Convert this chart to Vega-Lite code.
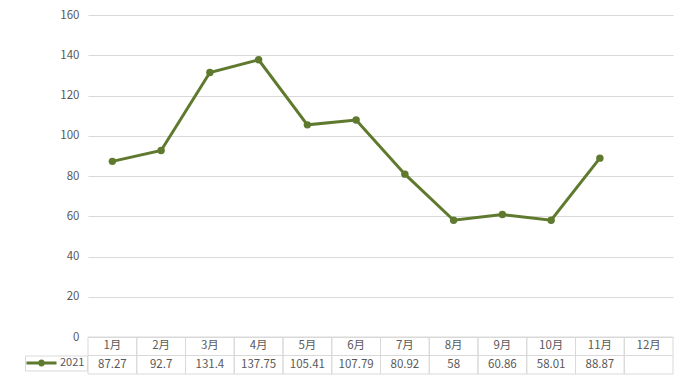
{
  "$schema": "https://vega.github.io/schema/vega-lite/v6.json",
  "padding": {"left": 24, "top": 9, "right": 15, "bottom": 16},
  "background": "white",
  "datasets": {
    "d": [
      {"month": "1月", "value": 87.27},
      {"month": "2月", "value": 92.7},
      {"month": "3月", "value": 131.4},
      {"month": "4月", "value": 137.75},
      {"month": "5月", "value": 105.41},
      {"month": "6月", "value": 107.79},
      {"month": "7月", "value": 80.92},
      {"month": "8月", "value": 58},
      {"month": "9月", "value": 60.86},
      {"month": "10月", "value": 58.01},
      {"month": "11月", "value": 88.87},
      {"month": "12月", "value": null}
    ]
  },
  "spacing": 0,
  "bounds": "flush",
  "vconcat": [
    {
      "width": 585,
      "height": 322,
      "data": {"name": "d"},
      "encoding": {
        "x": {"field": "month", "type": "ordinal", "scale": {"type": "point", "padding": 0.5, "domain": ["1月","2月","3月","4月","5月","6月","7月","8月","9月","10月","11月","12月"]}, "axis": null},
        "y": {"field": "value", "type": "quantitative", "scale": {"domain": [0, 160], "nice": false, "zero": true},
          "axis": {"values": [0, 20, 40, 60, 80, 100, 120, 140, 160], "title": null, "grid": true, "gridColor": "#d9d9d9", "gridWidth": 1, "domain": false, "ticks": false, "labelPadding": 9, "labelColor": "#595959", "labelFontSize": 11.5, "labelFont": "Noto Sans CJK SC"}}
      },
      "layer": [
        {"transform": [{"filter": "isValid(datum.value)"}], "mark": {"type": "line", "color": "#5f7a2e", "strokeWidth": 3}},
        {"transform": [{"filter": "isValid(datum.value)"}], "mark": {"type": "point", "filled": true, "shape": "circle", "size": 55, "opacity": 1},
          "encoding": {"color": {"datum": "2021", "type": "nominal", "scale": {"domain": ["2021"], "range": ["#5f7a2e"]},
            "legend": {"title": null, "orient": "none", "legendX": -63, "legendY": 340.5, "symbolType": "M-1.5,-0.375H6V0.375H-1.5Z M3.125,0A0.875,0.875,0,1,1,1.375,0A0.875,0.875,0,1,1,3.125,0Z", "symbolSize": 64, "symbolOpacity": 1, "symbolStrokeWidth": 0, "labelOffset": 22, "labelFontSize": 11, "labelColor": "#595959", "labelFont": "Noto Sans CJK SC", "strokeColor": "#d9d9d9", "padding": 2}}}}
      ]
    },
    {
      "width": 585,
      "height": 37,
      "data": {"name": "d"},
      "encoding": {
        "x": {"field": "month", "type": "ordinal", "scale": {"type": "band", "paddingInner": 0, "paddingOuter": 0, "domain": ["1月","2月","3月","4月","5月","6月","7月","8月","9月","10月","11月","12月"]}, "axis": null}
      },
      "layer": [
        {"mark": {"type": "rect", "fill": null, "stroke": "#d9d9d9", "strokeWidth": 1},
          "encoding": {"y": {"datum": "h", "type": "nominal", "scale": {"type": "band", "domain": ["h", "v"], "paddingInner": 0, "paddingOuter": 0}, "axis": null}}},
        {"mark": {"type": "rect", "fill": null, "stroke": "#d9d9d9", "strokeWidth": 1},
          "encoding": {"y": {"datum": "v", "type": "nominal"}}},
        {"mark": {"type": "text", "color": "#595959", "fontSize": 11.5, "font": "Noto Sans CJK SC"},
          "encoding": {"y": {"datum": "h", "type": "nominal"}, "text": {"field": "month", "type": "nominal"}}},
        {"transform": [{"filter": "isValid(datum.value)"}], "mark": {"type": "text", "color": "#595959", "fontSize": 11.5, "font": "Noto Sans CJK SC"},
          "encoding": {"y": {"datum": "v", "type": "nominal"}, "text": {"field": "value", "type": "nominal"}}}
      ]
    }
  ],
  "config": {"view": {"stroke": null}}
}
